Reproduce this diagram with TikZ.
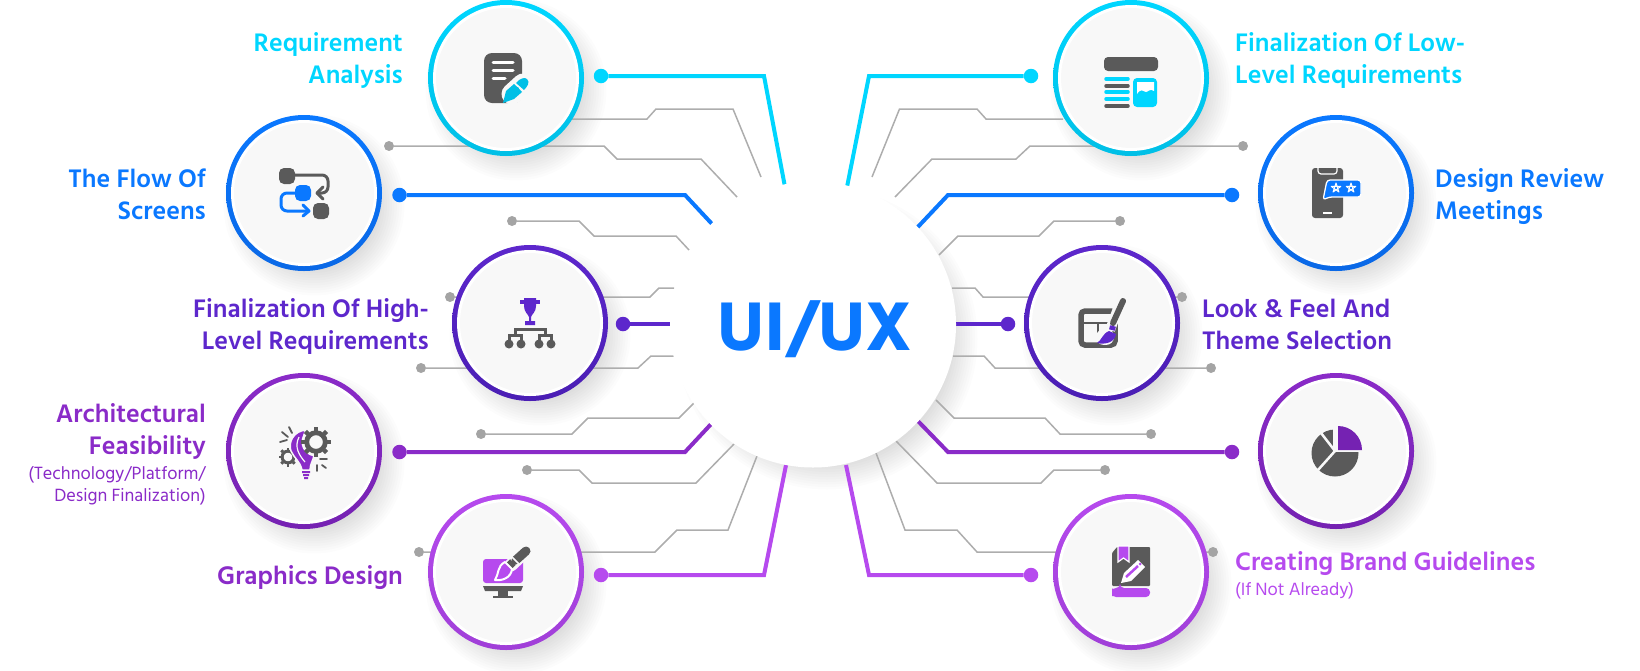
\documentclass[tikz,border=0pt]{standalone}
\usepackage{fontspec}
\setmainfont{Hind Siliguri}
\newfontfamily\medfont{Hind Siliguri SemiBold}
\newfontfamily\boldfont{Hind Siliguri Bold}
\usetikzlibrary{positioning}

\definecolor{cyanA}{HTML}{00D6FF}\definecolor{cyanB}{HTML}{00BFE6}
\definecolor{blueA}{HTML}{0A78FF}\definecolor{blueB}{HTML}{0A68E6}
\definecolor{indigoA}{HTML}{5D27CC}\definecolor{indigoB}{HTML}{4A1EB4}
\definecolor{violetA}{HTML}{8A2BC8}\definecolor{violetB}{HTML}{7522B2}
\definecolor{orchidA}{HTML}{B64AEE}\definecolor{orchidB}{HTML}{A03FD8}
\definecolor{wiregray}{HTML}{ADADAD}
\definecolor{icongray}{HTML}{5A5A5A}
\definecolor{panel}{HTML}{F8F8F8}

\tikzset{
  graywire/.style={draw=wiregray, line width=1.5pt},
  graydot/.style={circle, fill=wiregray!95!black, inner sep=0pt, minimum size=10pt},
  colorwire/.style={draw=#1, line width=4pt, line join=miter},
  colordot/.style={circle, fill=#1, inner sep=0pt, minimum size=14.5pt},
  medallion/.style={circle, draw=white, line width=3pt, fill=panel, inner sep=0pt, minimum size=143pt},
  mainlabel/.style={font=\medfont\fontsize{26}{32}\selectfont, text=#1, inner sep=0pt},
  sublabel/.style={font=\fontsize{18.2}{22}\selectfont, text=#1, inner sep=0pt},
  iconline/.style={line width=#1, line cap=round, line join=round}
}
\newcommand{\softshadow}[3]{\foreach \k in {0,...,11} \fill[black, opacity=.011] (#1,#2) circle ({#3-9+2.5*\k});}
\newcommand{\ringdisc}[4]{\shade[top color=#3, bottom color=#4] (#1,#2) circle (78);}
\newcommand{\tinystar}[2]{\draw[white, line width=1pt, line join=round] (#1,#2)
  +(-90:5) -- +(54:5) -- +(198:5) -- +(-18:5) -- +(126:5) -- cycle;}
\newcommand{\cog}[3]{
  \foreach \a in {0,45,...,315} \draw[icongray, line width=#3*.3pt] (#1,#2) +(\a:#3*.75) -- +(\a:#3);
  \draw[icongray, line width=#3*.32pt] (#1,#2) circle (#3*.62);
}

\begin{document}
\begin{tikzpicture}[x=1pt, y=-1pt]
  \useasboundingbox (0,0) rectangle (1640,670);

  \softshadow{827}{339}{132}
  \foreach \x/\y in {506/78, 304/193, 530/323, 304/451, 506/572, 1131/78, 1336/193, 1102/323, 1336/451, 1131/572}
    \softshadow{\x+10}{\y+12}{72};

  % thin wires, left
  \coordinate (tapReq) at (572,119);
  \coordinate (endA) at (761,177);
  \coordinate (endB) at (737,197);
  \coordinate (endC) at (689,250);
  \coordinate (endD) at (674,288);
  \coordinate (endE) at (674,356);
  \coordinate (endF) at (694,403);
  \coordinate (endG) at (734,444);
  \coordinate (endH) at (757,456);
  \node[graydot] (dotB) at (389,146) {};
  \node[graydot] (dotC) at (512,221) {};
  \node[graydot] (dotD) at (450,297) {};
  \node[graydot] (dotE) at (421,368) {};
  \node[graydot] (dotF) at (481,434) {};
  \node[graydot] (dotG) at (527,470) {};
  \node[graydot] (dotH) at (419,552) {};
  \draw[graywire] (tapReq) -- (647,119) -- (656,109) -- (733,109) -- (endA);
  \draw[graywire] (dotB) -- (604,146) -- (617,159) -- (701,159) -- (endB);
  \draw[graywire] (dotC) -- (579,221) -- (594,236) -- (676,236) -- (endC);
  \draw[graywire] (dotD) -- (650,297) -- (659,288) -- (endD);
  \draw[graywire] (dotE) -- (638,368) -- (651,356) -- (endE);
  \draw[graywire] (dotF) -- (572,434) -- (588,418) -- (679,418) -- (endF);
  \draw[graywire] (dotG) -- (579,470) -- (592,483) -- (696,483) -- (endG);
  \draw[graywire] (dotH) -- (655,552) -- (677,530) -- (728,530) -- (endH);

  % thin wires, right
  \coordinate (tapLow) at (1063,119);
  \coordinate (endP) at (872,177);
  \coordinate (endQ) at (895,197);
  \coordinate (endR) at (939,255);
  \coordinate (endS) at (952,288);
  \coordinate (endT) at (953,356);
  \coordinate (endU) at (936,400);
  \coordinate (endV) at (896,441);
  \coordinate (endW) at (876,453);
  \node[graydot] (dotQ) at (1243,146) {};
  \node[graydot] (dotR) at (1120,221) {};
  \node[graydot] (dotS) at (1182,297) {};
  \node[graydot] (dotT) at (1211,368) {};
  \node[graydot] (dotU) at (1151,434) {};
  \node[graydot] (dotV) at (1105,470) {};
  \node[graydot] (dotW) at (1213,552) {};
  \draw[graywire] (tapLow) -- (986,119) -- (977,109) -- (899.5,109) -- (endP);
  \draw[graywire] (dotQ) -- (1030,146) -- (1016,159) -- (932,159) -- (endQ);
  \draw[graywire] (dotR) -- (1054,221) -- (1039,236) -- (958,236) -- (endR);
  \draw[graywire] (dotS) -- (983,297) -- (975,288) -- (endS);
  \draw[graywire] (dotT) -- (995,368) -- (984,356) -- (endT);
  \draw[graywire] (dotU) -- (1060,434) -- (1045,418) -- (954,418) -- (endU);
  \draw[graywire] (dotV) -- (1054,470) -- (1041,483) -- (937,483) -- (endV);
  \draw[graywire] (dotW) -- (977,552) -- (957,530) -- (905,530) -- (endW);

  % heavy wires
  \coordinate (hubReq) at (785,187);
  \coordinate (hubFlow) at (713,225);
  \coordinate (hubHigh) at (680,324);
  \coordinate (hubArch) at (713,422);
  \coordinate (hubGfx) at (786,465);
  \coordinate (hubLow) at (847,187);
  \coordinate (hubRev) at (915,230);
  \coordinate (hubLook) at (950,324);
  \coordinate (hubPie) at (915,418);
  \coordinate (hubBrand) at (846,465);
  \node[colordot=cyanA] (pinReq) at (601,76) {};
  \node[colordot=blueA] (pinFlow) at (399.5,195) {};
  \node[colordot=indigoA] (pinHigh) at (623,324) {};
  \node[colordot=violetA] (pinArch) at (399.5,452) {};
  \node[colordot=orchidA] (pinGfx) at (601,575) {};
  \node[colordot=cyanA] (pinLow) at (1031,76) {};
  \node[colordot=blueA] (pinRev) at (1232,195) {};
  \node[colordot=indigoA] (pinLook) at (1008,324) {};
  \node[colordot=violetA] (pinPie) at (1232,452) {};
  \node[colordot=orchidA] (pinBrand) at (1031,575) {};
  \draw[colorwire=cyanA] (pinReq) -- (764,76) -- (hubReq);
  \draw[colorwire=blueA] (pinFlow) -- (685,195) -- (hubFlow);
  \draw[colorwire=indigoA] (pinHigh) -- (hubHigh);
  \draw[colorwire=violetA] (pinArch) -- (685,452) -- (hubArch);
  \draw[colorwire=orchidA] (pinGfx) -- (764,575) -- (hubGfx);
  \draw[colorwire=cyanA] (pinLow) -- (869,76) -- (hubLow);
  \draw[colorwire=blueA] (pinRev) -- (948,195) -- (hubRev);
  \draw[colorwire=indigoA] (pinLook) -- (hubLook);
  \draw[colorwire=violetA] (pinPie) -- (948,452) -- (hubPie);
  \draw[colorwire=orchidA] (pinBrand) -- (869,575) -- (hubBrand);

  \node[circle, fill=white, inner sep=0pt, minimum size=286pt] (hub) at (813,324.5) {};
  \node[text=blueA, inner sep=0pt, font=\boldfont\fontsize{70.5}{72}\selectfont] (hubTitle) at (815,329) {UI/UX};

  % rings
  \ringdisc{506}{78}{cyanA}{cyanB}
  \ringdisc{304}{193}{blueA}{blueB}
  \ringdisc{530}{323}{indigoA}{indigoB}
  \ringdisc{304}{451}{violetA}{violetB}
  \ringdisc{506}{572}{orchidA}{orchidB}
  \ringdisc{1131}{78}{cyanA}{cyanB}
  \ringdisc{1336}{193}{blueA}{blueB}
  \ringdisc{1102}{323}{indigoA}{indigoB}
  \ringdisc{1336}{451}{violetA}{violetB}
  \ringdisc{1131}{572}{orchidA}{orchidB}
  \node[medallion] (req) at (506,78) {};
  \node[medallion] (flow) at (304,193) {};
  \node[medallion] (high) at (530,323) {};
  \node[medallion] (arch) at (304,451) {};
  \node[medallion] (gfx) at (506,572) {};
  \node[medallion] (low) at (1131,78) {};
  \node[medallion] (review) at (1336,193) {};
  \node[medallion] (look) at (1102,323) {};
  \node[medallion] (pie) at (1336,451) {};
  \node[medallion] (brand) at (1131,572) {};

  % labels
  \node[mainlabel=cyanA, anchor=east, align=right] (reqText) at (403,60) {Requirement\\Analysis};
  \node[mainlabel=blueA, anchor=east, align=right] (flowText) at (206,194) {The Flow Of\\Screens};
  \node[mainlabel=indigoA, anchor=east, align=right] (highText) at (429,326) {Finalization Of High-\\Level Requirements};
  \node[mainlabel=violetA, anchor=east, align=right] (archText) at (206,431) {Architectural\\Feasibility};
  \node[sublabel=violetA, align=right, below=7pt of archText.south east, anchor=north east] (archSub) {(Technology/Platform/\\Design Finalization)};
  \node[mainlabel=violetA, anchor=east] (gfxText) at (403,578) {Graphics Design};
  \node[mainlabel=cyanA, anchor=west, align=left] (lowText) at (1235,60) {Finalization Of Low-\\Level Requirements};
  \node[mainlabel=blueA, anchor=west, align=left] (reviewText) at (1435,197) {Design Review\\Meetings};
  \node[mainlabel=indigoA, anchor=west, align=left] (lookText) at (1202,324) {Look \& Feel And\\Theme Selection};
  \node[mainlabel=orchidA, anchor=west] (brandText) at (1235,564) {Creating Brand Guidelines};
  \node[sublabel=orchidA, below=6pt of brandText.south west, anchor=north west] (brandSub) {(If Not Already)};

  % icon: requirement
  \fill[icongray, rounded corners=8pt] (484,53) rectangle (522,103);
  \foreach \y/\e in {62/513, 70/513, 78/505} \draw[white, iconline=3pt] (493,\y) -- (\e,\y);
  \draw[panel, iconline=21pt] (512,94) -- (523,84);
  \fill[cyanB] (503,103) -- (506,91) -- (514,84) -- (522,92) -- (514,99) -- cycle;
  \draw[cyanB, iconline=7pt] (514,92) -- (516,90);
  \fill[cyanB] (516,83) .. controls (520,78) and (525,77) .. (527,79) .. controls (530,82) and (528,86) .. (524,90) -- cycle;

  % icon: flow
  \draw[icongray, iconline=3pt, rounded corners=6pt] (287,175) -- (328,175) -- (328,193) -- (317,193);
  \draw[icongray, iconline=3pt] (323,187) -- (317,193) -- (323,199);
  \draw[blueA, iconline=3pt, rounded corners=6pt] (303,193) -- (281,193) -- (281,211) -- (308,211);
  \draw[blueA, iconline=3pt] (303,205) -- (309,211) -- (303,216);
  \fill[icongray, rounded corners=5pt] (279,168) rectangle (295,184);
  \fill[blueA, rounded corners=5pt] (295,185) rectangle (311,201);
  \fill[icongray, rounded corners=5pt] (313,203) rectangle (329,219);

  % icon: high level
  \fill[indigoA] (520,300) rectangle (540,304);
  \fill[indigoA] (524,298) -- (536,298) -- (536,306) .. controls (536,312) and (532,314) .. (531,317) -- (531,321) -- (535,321) -- (535,325) -- (525,325) -- (525,321) -- (529,321) -- (529,317) .. controls (528,314) and (524,312) .. (524,306) -- cycle;
  \draw[icongray, line width=3pt] (515,335) -- (515,329) -- (545,329) -- (545,335);
  \draw[icongray, line width=3pt] (509,344) -- (509,335) -- (521,335) -- (521,344);
  \draw[icongray, line width=3pt] (539,344) -- (539,335) -- (551,335) -- (551,344);
  \foreach \x in {509,521,539,551} \fill[icongray] (\x,344) circle (4.5);

  % icon: architecture
  \cog{288}{457}{9.5}
  \fill[violetA, draw=panel, line width=1.5pt] (306,430) .. controls (293,431) and (288,443) .. (291,451) .. controls (294,458) and (300,461) .. (302,470) -- (310,470) .. controls (310,463) and (314,460) .. (314,454) -- (308,448) .. controls (303,444) and (302,437) .. (306,430) -- cycle;
  \draw[panel, line width=1.2pt] (299,437) .. controls (294,447) and (299,455) .. (305,462);
  \fill[violetA] (302,471) rectangle (310,473) (303,474) rectangle (309,476) (304,477) rectangle (308,479);
  \fill[panel] (316,442) circle (14.5);
  \cog{316}{442}{15}
  \draw[icongray, iconline=1.8pt] (282,432) -- (288,437) (280,442) -- (287,440) (289,427) -- (292,433) (320,459) -- (327,459) (317,465) -- (317,471) (322,465) -- (326,468);

  % icon: graphics
  \fill[orchidA, rounded corners=3pt] (483,559) -- (523,559) -- (523,583) -- (483,583) -- cycle;
  \fill[icongray] (483,586) -- (523,586) -- (521,591) -- (485,591) -- cycle;
  \fill[icongray] (498,591) rectangle (508,596);
  \fill[icongray] (493,596) rectangle (513,598);
  \draw[panel, line width=13pt, line cap=round] (511,565) -- (526,551);
  \draw[icongray, iconline=9pt] (516,560) -- (526,551);
  \draw[panel, line width=1.5pt] (510,555) -- (519,564);
  \draw[icongray, line width=8pt] (509,566) -- (513,562);
  \fill[orchidA, draw=white, line width=2pt, line join=round] (505,562) .. controls (497,566) and (499,574) .. (495,580) .. controls (502,581) and (511,578) .. (512,569) -- cycle;

  % icon: low level
  \fill[icongray, rounded corners=4pt] (1104,57) rectangle (1158,71);
  \foreach \y/\c in {79/cyanA, 86/icongray, 92/cyanA, 99/cyanA, 106/icongray} \draw[\c, iconline=3.5pt] (1106,\y) -- (1128,\y);
  \fill[cyanA, rounded corners=4pt] (1133,78) rectangle (1157,107);
  \fill[white] (1137,82) -- (1154,82) -- (1154,91) .. controls (1150,88) and (1148,92) .. (1146,92) .. controls (1143,91) and (1141,88) .. (1137,94) -- cycle;

  % icon: review
  \begin{scope}[shift={(-3,0)}]
    \fill[icongray, rounded corners=3pt] (1315,168) rectangle (1346,218);
    \draw[white, line width=1.2pt, rounded corners=3pt] (1321,167) -- (1321,174) -- (1340,174) -- (1340,167);
    \draw[white, line width=1.5pt] (1326,213) -- (1335,213);
    \fill[blueA, draw=white, line width=1.3pt, line join=round, rounded corners=3pt] (1330,180) -- (1364,180) -- (1364,197) -- (1332,197) -- (1326,200) -- cycle;
    \tinystar{1339}{188}
    \tinystar{1354}{188}
  \end{scope}

  % icon: look
  \draw[icongray, line width=5.5pt, rounded corners=4pt] (1081,311) rectangle (1115,345);
  \draw[icongray, line width=2.5pt] (1083,323) -- (1113,323) (1098,323) -- (1098,341);
  \draw[panel, line width=10pt] (1120,303) -- (1110,330);
  \draw[panel, line width=16pt, line cap=round] (1104,337) -- (1106,337);
  \draw[icongray, iconline=6pt] (1123,301) -- (1113,323);
  \draw[indigoA, line width=6pt] (1113,326) -- (1112,330);
  \fill[indigoA] (1109,331) -- (1116,334) .. controls (1115,342) and (1106,345) .. (1097,343) .. controls (1102,340) and (1102,334) .. (1109,331) -- cycle;

  % icon: pie
  \begin{scope}[shift={(-3,0)}]
    \fill[icongray] (1338,453) circle (23.5);
    \fill[panel] (1338,451) rectangle (1368,425);
    \fill[panel] (1336,425) rectangle (1338,453);
    \draw[panel, line width=2.5pt] (1338,451) -- (1364,451);
    \draw[panel, line width=2.5pt] (1338,451) -- (1321,470);
    \draw[panel, line width=2.5pt] (1338,451) -- (1324,433);
    \fill[violetB] (1341,450) -- (1341,426) arc[start angle=-90, end angle=0, radius=24] -- cycle;
  \end{scope}

  % icon: brand
  \fill[icongray, rounded corners=1pt] (1112,586) -- (1112,553) -- (1117,547) -- (1150,547) -- (1150,586) -- cycle;
  \fill[orchidA, draw=white, line width=1.2pt] (1118,546) -- (1129,546) -- (1129,562) -- (1123.5,558) -- (1118,562) -- cycle;
  \fill[orchidA, rounded corners=4pt] (1120,588) -- (1150,588) -- (1150,597) -- (1120,597) .. controls (1115,597) and (1112,595) .. (1112,592) .. controls (1112,590) and (1115,588) .. (1120,588) -- cycle;
  \fill[white] (1121,583) -- (1124,573) -- (1138,560) -- (1145,567) -- (1131,581) -- cycle;
  \draw[orchidA, line width=2.5pt] (1126,577) -- (1138,566);
  \fill[orchidA] (1140,564) circle (1.5);
\end{tikzpicture}
\end{document}
